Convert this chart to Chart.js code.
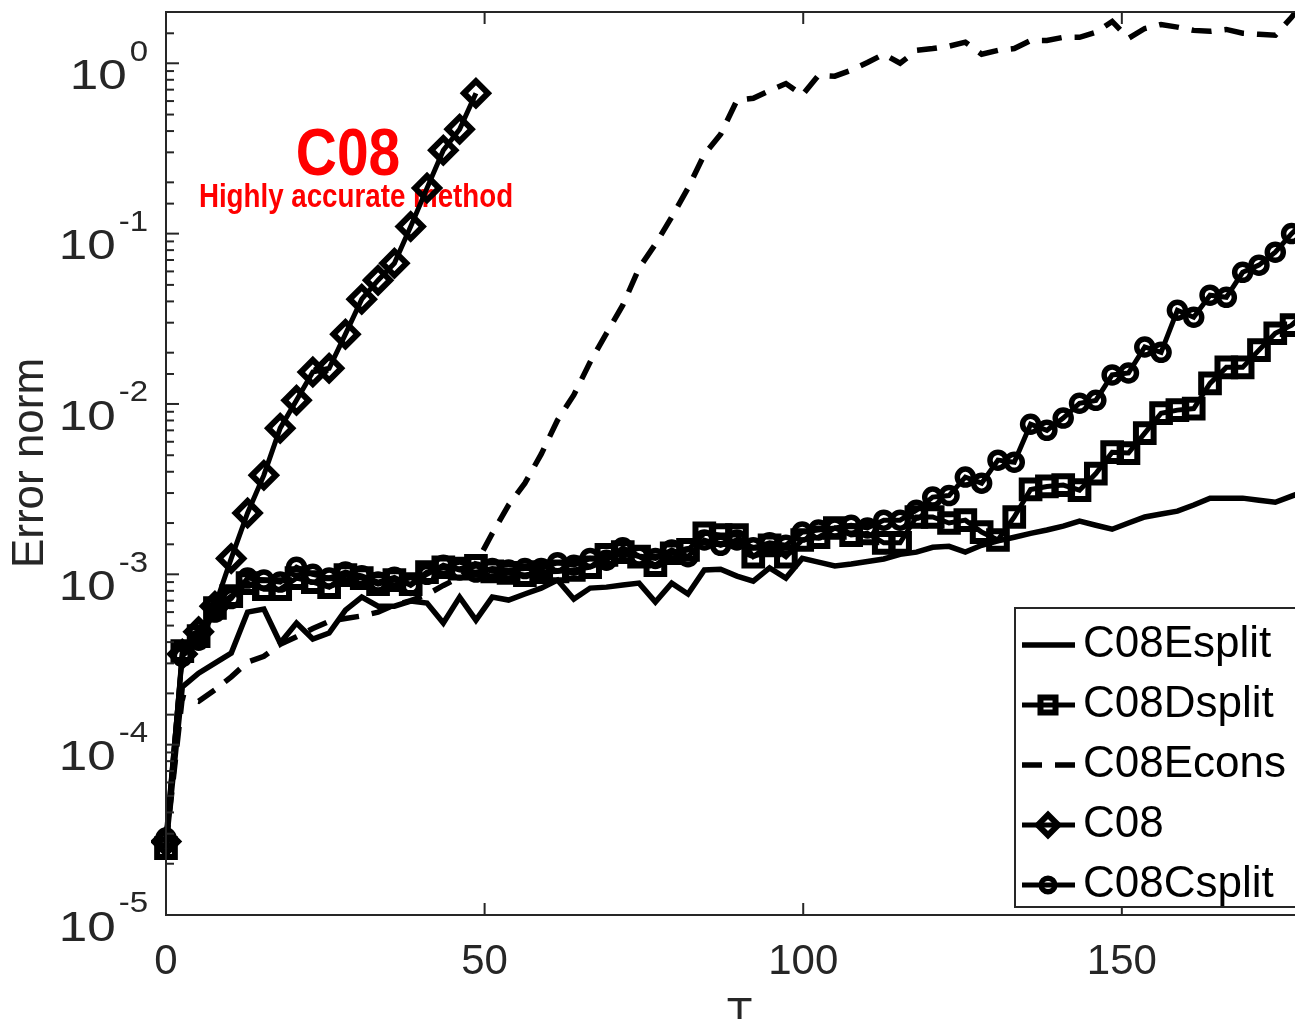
<!DOCTYPE html>
<html>
<head>
<meta charset="utf-8">
<script src="https://cdn.jsdelivr.net/npm/chart.js@4/dist/chart.umd.min.js"></script>
<style>
  html, body { margin: 0; padding: 0; background: #fff; overflow: hidden; }
  #wrap { width: 1330px; height: 1019px; }
</style>
</head>
<body>
<div id="wrap"><canvas id="grafico" width="1330" height="1019"></canvas></div>
<script>
// tiempos de muestreo (paso 2.56)
const tiempos = [0, 2.56, 5.12, 7.68, 10.24, 12.8, 15.36, 17.92, 20.48, 23.04,
  25.6, 28.16, 30.72, 33.28, 35.84, 38.4, 40.96, 43.52, 46.08, 48.64,
  51.2, 53.76, 56.32, 58.88, 61.44, 64, 66.56, 69.12, 71.68, 74.24,
  76.8, 79.36, 81.92, 84.48, 87.04, 89.6, 92.16, 94.72, 97.28, 99.84,
  102.4, 104.96, 107.52, 110.08, 112.64, 115.2, 117.76, 120.32, 122.88, 125.44,
  128, 130.56, 133.12, 135.68, 138.24, 140.8, 143.36, 145.92, 148.48, 151.04,
  153.6, 156.16, 158.72, 161.28, 163.84, 166.4, 168.96, 171.52, 174.08, 176.64,
  179.2];

const etiquetas = ["C08Esplit", "C08Dsplit", "C08Econs", "C08", "C08Csplit"];

const errEsplit = [2.58e-5, 2.18e-4, 2.63e-4, 3.01e-4, 3.45e-4, 6.0e-4, 6.25e-4, 3.95e-4, 5.18e-4, 4.17e-4,
  4.52e-4, 6.17e-4, 7.35e-4, 6.5e-4, 6.5e-4, 6.96e-4, 6.78e-4, 5.18e-4, 7.35e-4, 5.38e-4,
  7.35e-4, 7.06e-4, 7.66e-4, 8.3e-4, 9.25e-4, 7.15e-4, 8.3e-4, 8.41e-4, 8.65e-4, 8.88e-4,
  6.87e-4, 8.88e-4, 7.66e-4, 1.06e-3, 1.07e-3, 9.76e-4, 9.12e-4, 1.09e-3, 9.5e-4, 1.24e-3,
  1.18e-3, 1.12e-3, 1.15e-3, 1.19e-3, 1.23e-3, 1.31e-3, 1.35e-3, 1.44e-3, 1.46e-3, 1.35e-3,
  1.48e-3, 1.57e-3, 1.65e-3, 1.74e-3, 1.82e-3, 1.92e-3, 2.05e-3, 1.94e-3, 1.84e-3, 2.0e-3,
  2.17e-3, 2.26e-3, 2.35e-3, 2.55e-3, 2.8e-3, 2.8e-3, 2.8e-3, 2.72e-3, 2.65e-3, 2.88e-3,
  3.12e-3];

const errDsplit = [2.47e-5, 3.54e-4, 4.34e-4, 6.34e-4, 7.45e-4, 8.88e-4, 8.18e-4, 8.18e-4, 9.5e-4, 9.0e-4,
  8.41e-4, 9.89e-4, 9.5e-4, 8.75e-4, 9.25e-4, 8.75e-4, 1.03e-3, 1.10e-3, 1.08e-3, 1.12e-3,
  1.04e-3, 1.02e-3, 9.9e-4, 1.03e-3, 1.04e-3, 1.06e-3, 1.10e-3, 1.30e-3, 1.35e-3, 1.27e-3,
  1.13e-3, 1.33e-3, 1.39e-3, 1.74e-3, 1.70e-3, 1.70e-3, 1.27e-3, 1.48e-3, 1.27e-3, 1.59e-3,
  1.65e-3, 1.87e-3, 1.70e-3, 1.74e-3, 1.53e-3, 1.53e-3, 2.17e-3, 2.17e-3, 2.0e-3, 2.08e-3,
  1.77e-3, 1.59e-3, 2.17e-3, 3.15e-3, 3.28e-3, 3.34e-3, 3.12e-3, 3.9e-3, 5.21e-3, 5.15e-3,
  6.74e-3, 8.83e-3, 9.2e-3, 9.4e-3, 1.32e-2, 1.64e-2, 1.64e-2, 2.07e-2, 2.6e-2, 2.9e-2,
  3.55e-2];

const errEcons = [2.58e-5, 1.9e-4, 1.8e-4, 2.1e-4, 2.5e-4, 3.05e-4, 3.3e-4, 3.88e-4, 4.3e-4, 4.8e-4,
  5.3e-4, 5.5e-4, 5.7e-4, 6.0e-4, 6.6e-4, 7.0e-4, 7.6e-4, 8.6e-4, 9.6e-4, 1.15e-3,
  1.74e-3, 2.55e-3, 3.43e-3, 5.07e-3, 8.03e-3, 1.13e-2, 1.76e-2, 2.6e-2, 3.8e-2, 6.27e-2,
  8.67e-2, 0.125, 0.185, 0.292, 0.383, 0.606, 0.623, 0.69, 0.76, 0.65,
  0.85, 0.84, 0.91, 1.01, 1.13, 1.0, 1.19, 1.22, 1.26, 1.33,
  1.13, 1.19, 1.22, 1.36, 1.36, 1.42, 1.42, 1.52, 1.76, 1.40,
  1.60, 1.69, 1.63, 1.56, 1.54, 1.58, 1.50, 1.48, 1.46, 1.86,
  2.5];

const errC08 = [2.7e-5, 3.4e-4, 4.6e-4, 6.5e-4, 1.24e-3, 2.29e-3, 3.82e-3, 7.21e-3, 1.05e-2, 1.54e-2,
  1.62e-2, 2.57e-2, 4.12e-2, 5.33e-2, 6.7e-2, 0.110, 0.185, 0.309, 0.410, 0.667];

const errCsplit = [2.83e-5, 3.3e-4, 4.1e-4, 6.0e-4, 7.2e-4, 9.5e-4, 9.25e-4, 9.0e-4, 1.1e-3, 1.0e-3,
  9.5e-4, 1.03e-3, 9.8e-4, 9.0e-4, 9.6e-4, 8.6e-4, 1.0e-3, 1.13e-3, 1.06e-3, 1.03e-3,
  1.08e-3, 1.06e-3, 1.08e-3, 1.08e-3, 1.17e-3, 1.13e-3, 1.24e-3, 1.21e-3, 1.43e-3, 1.28e-3,
  1.24e-3, 1.39e-3, 1.27e-3, 1.59e-3, 1.48e-3, 1.59e-3, 1.43e-3, 1.53e-3, 1.48e-3, 1.77e-3,
  1.82e-3, 1.87e-3, 1.94e-3, 1.87e-3, 2.08e-3, 2.08e-3, 2.38e-3, 2.84e-3, 2.9e-3, 3.72e-3,
  3.43e-3, 4.68e-3, 4.55e-3, 7.6e-3, 7.0e-3, 8.26e-3, 1.01e-2, 1.05e-2, 1.48e-2, 1.52e-2,
  2.16e-2, 2.01e-2, 3.55e-2, 3.23e-2, 4.35e-2, 4.23e-2, 5.93e-2, 6.53e-2, 7.78e-2, 0.1,
  0.123];

const xTicks = [0, 50, 100, 150];
const yDecadas = [-5, -4, -3, -2, -1, 0];
const anotacion = ["C08", "Highly accurate method"];
const tituloX = "T";
const tituloY = "Error norm";

const FUENTE = '"Liberation Sans", Arial, Helvetica, sans-serif';
const GRIS = "#262626";

function serie(vals) {
  return vals.map((v, i) => ({ x: tiempos[i], y: v }));
}

function linea(ctx, x1, y1, x2, y2) {
  ctx.beginPath();
  ctx.moveTo(x1, y1);
  ctx.lineTo(x2, y2);
  ctx.stroke();
}

function marcador(ctx, estilo, x, y, r) {
  ctx.beginPath();
  if (estilo === "rect") {
    const h = r * Math.SQRT1_2;
    ctx.rect(x - h, y - h, 2 * h, 2 * h);
  } else if (estilo === "rectRot") {
    ctx.moveTo(x - r, y);
    ctx.lineTo(x, y - r);
    ctx.lineTo(x + r, y);
    ctx.lineTo(x, y + r);
    ctx.closePath();
  } else {
    ctx.arc(x, y, r, 0, Math.PI * 2);
  }
  ctx.stroke();
}

// texto escalado en horizontal (fuente condensada o ensanchada)
function textoEscalado(ctx, txt, x, y, font, sx, align) {
  ctx.save();
  ctx.translate(x, y);
  ctx.scale(sx, 1);
  ctx.font = font;
  ctx.textAlign = align;
  ctx.fillText(txt, 0, 0);
  ctx.restore();
}

const estiloMatlab = {
  id: "estiloMatlab",
  beforeDatasetsDraw(chart) {
    const ctx = chart.ctx;
    ctx.save();
    ctx.fillStyle = "#ff0000";
    ctx.textBaseline = "alphabetic";
    textoEscalado(ctx, anotacion[0], 348, 175, "bold 67px " + FUENTE, 0.85, "center");
    textoEscalado(ctx, anotacion[1], 356, 207, "bold 33px " + FUENTE, 0.84, "center");
    ctx.restore();
  },
  afterDraw(chart) {
    const ctx = chart.ctx;
    const a = chart.chartArea;
    const sx = chart.scales.x;
    const sy = chart.scales.y;
    ctx.save();
    ctx.strokeStyle = GRIS;
    ctx.lineWidth = 2;
    ctx.setLineDash([]);
    ctx.strokeRect(a.left, a.top, a.right - a.left, a.bottom - a.top);

    // marcas hacia dentro, como en MATLAB
    sy.ticks.forEach(t => {
      const p = sy.getPixelForValue(t.value);
      const lg = Math.log10(t.value);
      const mayor = Math.abs(lg - Math.round(lg)) < 1e-6;
      const L = mayor ? 13 : 8;
      linea(ctx, a.left, p, a.left + L, p);
      linea(ctx, a.right, p, a.right - L, p);
    });
    sx.ticks.forEach(t => {
      const p = sx.getPixelForValue(t.value);
      linea(ctx, p, a.bottom, p, a.bottom - 12);
      linea(ctx, p, a.top, p, a.top + 12);
    });

    // etiquetas 10^n
    ctx.fillStyle = GRIS;
    ctx.textBaseline = "middle";
    yDecadas.forEach(n => {
      const p = sy.getPixelForValue(Math.pow(10, n));
      const exp = n === 0 ? "0" : "-" + Math.abs(n);
      ctx.font = "30px " + FUENTE;
      const w = ctx.measureText(exp).width * 1.1;
      textoEscalado(ctx, exp, 148, p - 11, "30px " + FUENTE, 1.1, "right");
      textoEscalado(ctx, "10", 148 - w - 3, p + 14, "42px " + FUENTE, 1.22, "right");
    });

    // titulos de ejes
    ctx.textAlign = "center";
    ctx.font = "44px " + FUENTE;
    ctx.save();
    ctx.translate(31, 463);
    ctx.rotate(-Math.PI / 2);
    ctx.fillText(tituloY, 0, 0);
    ctx.restore();
    ctx.textBaseline = "alphabetic";
    ctx.font = "42px " + FUENTE;
    ctx.fillText(tituloX, (a.left + a.right) / 2, 1027);

    // leyenda
    ctx.fillStyle = "#ffffff";
    ctx.fillRect(1015, 608, 300, 299);
    ctx.strokeStyle = GRIS;
    ctx.lineWidth = 2;
    ctx.strokeRect(1015, 608, 300, 299);
    ctx.font = "44px " + FUENTE;
    ctx.textAlign = "left";
    ctx.textBaseline = "middle";
    chart.data.datasets.forEach((d, i) => {
      const yy = 645 + 60 * i;
      ctx.strokeStyle = "#000";
      ctx.lineWidth = d.borderWidth;
      ctx.setLineDash(d.borderDash || []);
      linea(ctx, 1022, yy, 1075, yy);
      ctx.setLineDash([]);
      if (d.pointRadius > 0) {
        ctx.lineWidth = d.pointBorderWidth;
        marcador(ctx, d.pointStyle, 1048, yy, d.pointRadius * 0.85);
      }
      ctx.fillStyle = "#000";
      ctx.fillText(d.label, 1083, yy);
    });
    ctx.restore();
  }
};

const base = {
  borderColor: "#000",
  pointBorderColor: "#000",
  pointBackgroundColor: "rgba(0,0,0,0)",
  fill: false,
  tension: 0,
  clip: { left: 15, top: 0, right: 0, bottom: 15 }
};

const datos = {
  datasets: [
    Object.assign({}, base, { label: etiquetas[0], data: serie(errEsplit), borderWidth: 5.5, pointRadius: 0, order: 5 }),
    Object.assign({}, base, { label: etiquetas[1], data: serie(errDsplit), borderWidth: 5, pointStyle: "rect",
      pointRadius: 12.5, pointBorderWidth: 6, order: 4 }),
    Object.assign({}, base, { label: etiquetas[2], data: serie(errEcons), borderWidth: 5.5, borderDash: [20, 13],
      pointRadius: 0, order: 3 }),
    Object.assign({}, base, { label: etiquetas[3], data: serie(errC08), borderWidth: 5, pointStyle: "rectRot",
      pointRadius: 12, pointBorderWidth: 6, order: 2 }),
    Object.assign({}, base, { label: etiquetas[4], data: serie(errCsplit), borderWidth: 5, pointStyle: "circle",
      pointRadius: 8, pointBorderWidth: 5.5, order: 1 })
  ]
};

new Chart(document.getElementById("grafico").getContext("2d"), {
  type: "line",
  data: datos,
  options: {
    responsive: false,
    animation: false,
    events: [],
    layout: { autoPadding: false, padding: { top: 12, right: 17, left: 0, bottom: 0 } },
    plugins: { legend: { display: false }, tooltip: { enabled: false } },
    scales: {
      x: {
        type: "linear",
        min: 0,
        max: 180,
        grid: { display: false, drawTicks: false },
        border: { display: false },
        ticks: { color: GRIS, font: { size: 42, family: FUENTE }, padding: 22, maxRotation: 0, autoSkip: false },
        afterBuildTicks: s => { s.ticks = xTicks.map(v => ({ value: v })); },
        afterFit: s => { s.height = 104; }
      },
      y: {
        type: "logarithmic",
        min: 1e-5,
        max: 2,
        grid: { display: false, drawTicks: false },
        border: { display: false },
        ticks: { display: false },
        afterFit: s => { s.width = 166; }
      }
    }
  },
  plugins: [estiloMatlab]
});
</script>
</body>
</html>
